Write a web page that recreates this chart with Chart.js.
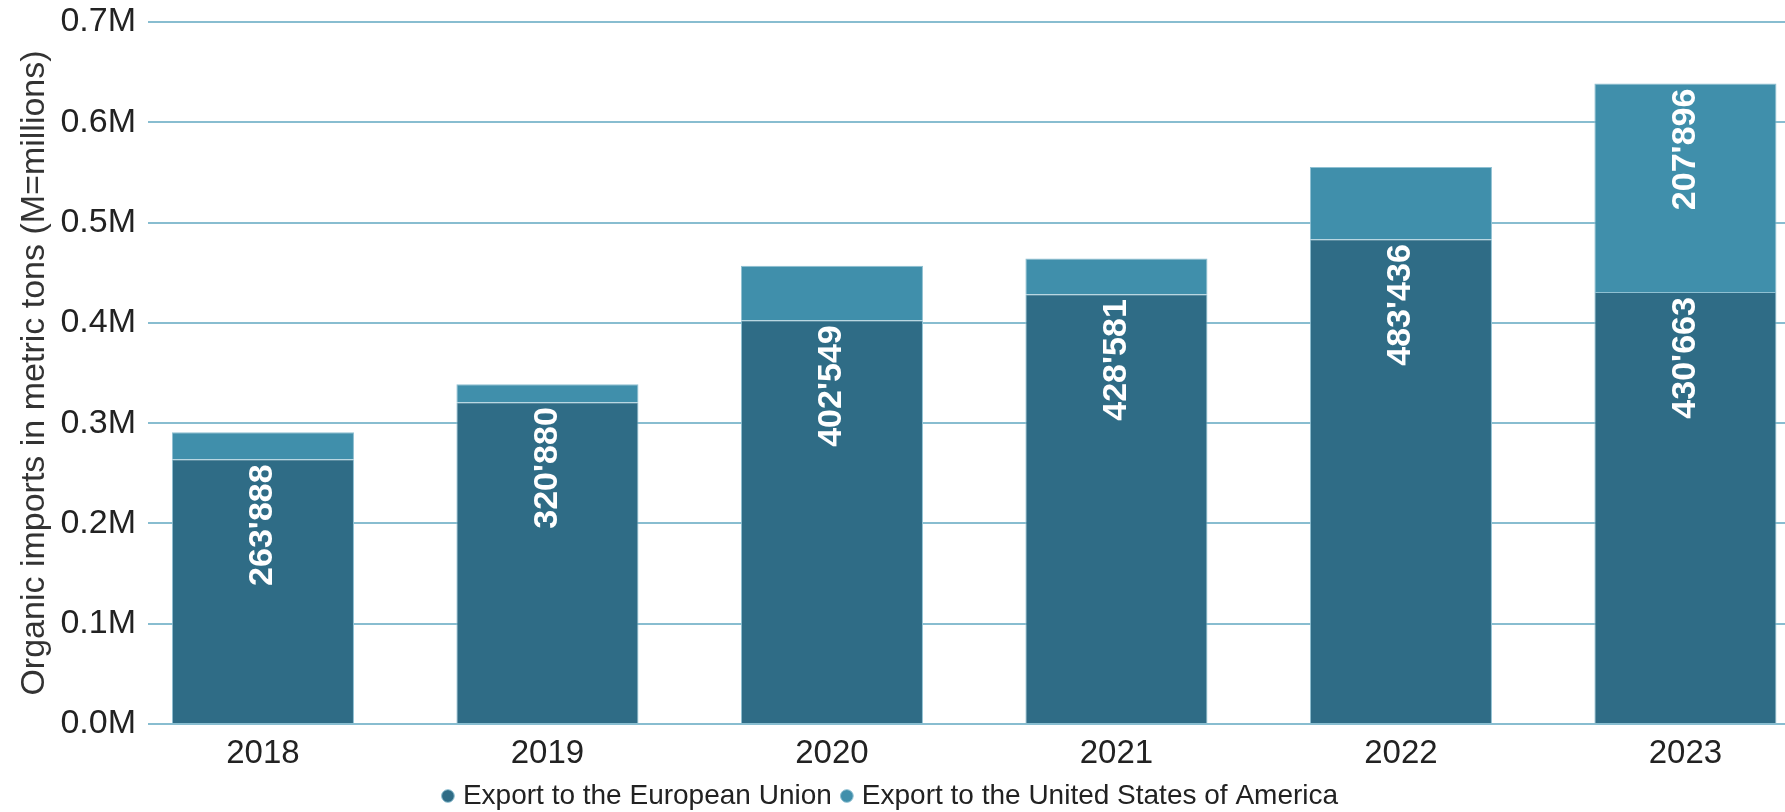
<!DOCTYPE html>
<html>
<head>
<meta charset="utf-8">
<script src="https://cdn.jsdelivr.net/npm/chart.js@4/dist/chart.umd.min.js"></script>
<style>
  html, body { margin: 0; padding: 0; background: #fff; overflow: hidden; }
  #wrap { width: 1785px; height: 812px; }
</style>
</head>
<body>
<div id="wrap"><canvas id="importsChart"></canvas></div>
<script>
// values (metric tons)
const years = ['2018', '2019', '2020', '2021', '2022', '2023'];
const exportEU = [263888, 320880, 402549, 428581, 483436, 430663];
const exportUS = [27000, 18000, 54500, 35500, 72000, 207896];
const yTicks = [0, 100000, 200000, 300000, 400000, 500000, 600000, 700000];

const seriesNames = ['Export to the European Union', 'Export to the United States of America'];
const colorEU = '#2f6c86';
const colorUS = '#408fab';
const gridColor = '#88bdd0';
const FONT = '"Liberation Sans", Arial, sans-serif';

const toPoints = (vals) => vals.map((v, i) => ({ x: i, y: v }));

// 263888 -> 263'888
const fmtTons = (v) => String(Math.round(v)).replace(/\B(?=(\d{3})+(?!\d))/g, "'");

// white rotated labels inside the segments, only where they fit
const segmentLabels = {
    id: 'segmentLabels',
    afterDatasetsDraw(chart) {
        const ctx = chart.ctx;
        ctx.save();
        ctx.font = 'bold 34px ' + FONT;
        ctx.fillStyle = '#ffffff';
        ctx.textAlign = 'right';
        ctx.textBaseline = 'middle';
        chart.data.datasets.forEach((ds, di) => {
            const meta = chart.getDatasetMeta(di);
            meta.data.forEach((bar, i) => {
                const txt = fmtTons(ds.data[i].y);
                const h = bar.base - bar.y;
                if (ctx.measureText(txt).width + 12 > h) return;
                ctx.save();
                ctx.translate(bar.x, bar.y + 5);
                ctx.rotate(-Math.PI / 2);
                ctx.fillText(txt, 0, 0);
                ctx.restore();
            });
        });
        ctx.restore();
    }
};

const ctx = document.getElementById('importsChart').getContext('2d');
const importsChart = new Chart(ctx, {
    type: 'bar',
    data: {
        datasets: [
            {
                label: seriesNames[0],
                data: toPoints(exportEU),
                backgroundColor: colorEU,
                borderColor: '#8fc0d2',
                borderWidth: 1,
                barPercentage: 0.8,
                categoryPercentage: 0.8
            },
            {
                label: seriesNames[1],
                data: toPoints(exportUS),
                backgroundColor: colorUS,
                borderColor: '#8fc0d2',
                borderWidth: 1,
                barPercentage: 0.8,
                categoryPercentage: 0.8
            }
        ]
    },
    options: {
        responsive: true,
        maintainAspectRatio: false,
        animation: false,
        layout: { padding: { top: 22, right: 0, bottom: -8, left: 0 } },
        plugins: {
            tooltip: { enabled: false },
            legend: {
                position: 'bottom',
                labels: {
                    usePointStyle: true,
                    pointStyle: 'circle',
                    boxWidth: 2,
                    boxHeight: 9,
                    padding: 14,
                    color: '#222',
                    font: { family: FONT, size: 28 }
                }
            }
        },
        scales: {
            x: {
                type: 'linear',
                stacked: true,
                offset: false,
                min: -0.404,
                max: 5.35,
                grid: { display: false, drawTicks: false },
                border: { display: false },
                ticks: {
                    stepSize: 1,
                    includeBounds: false,
                    padding: 10,
                    color: '#222',
                    font: { family: FONT, size: 33 },
                    callback: (v) => Number.isInteger(v) && years[v] ? years[v] : ''
                },
                afterFit: (scale) => { scale.height = 44; }
            },
            y: {
                stacked: true,
                min: 0,
                max: 700000,
                grid: { color: gridColor, lineWidth: 2, drawTicks: false },
                border: { display: false },
                afterBuildTicks: (scale) => { scale.ticks = yTicks.map(v => ({ value: v })); },
                ticks: {
                    padding: 12,
                    color: '#222',
                    font: { family: FONT, size: 34 },
                    callback: (v) => (v / 1000000).toFixed(1) + 'M'
                },
                title: {
                    display: true,
                    text: 'Organic imports in metric tons (M=millions)',
                    color: '#333',
                    padding: { top: 14, bottom: 0 },
                    font: { family: FONT, size: 34 }
                },
                afterFit: (scale) => {
                    scale.width = 148;
                    scale.paddingTop = 0;
                    scale.paddingBottom = 0;
                }
            }
        }
    },
    plugins: [segmentLabels]
});
</script>
</body>
</html>
